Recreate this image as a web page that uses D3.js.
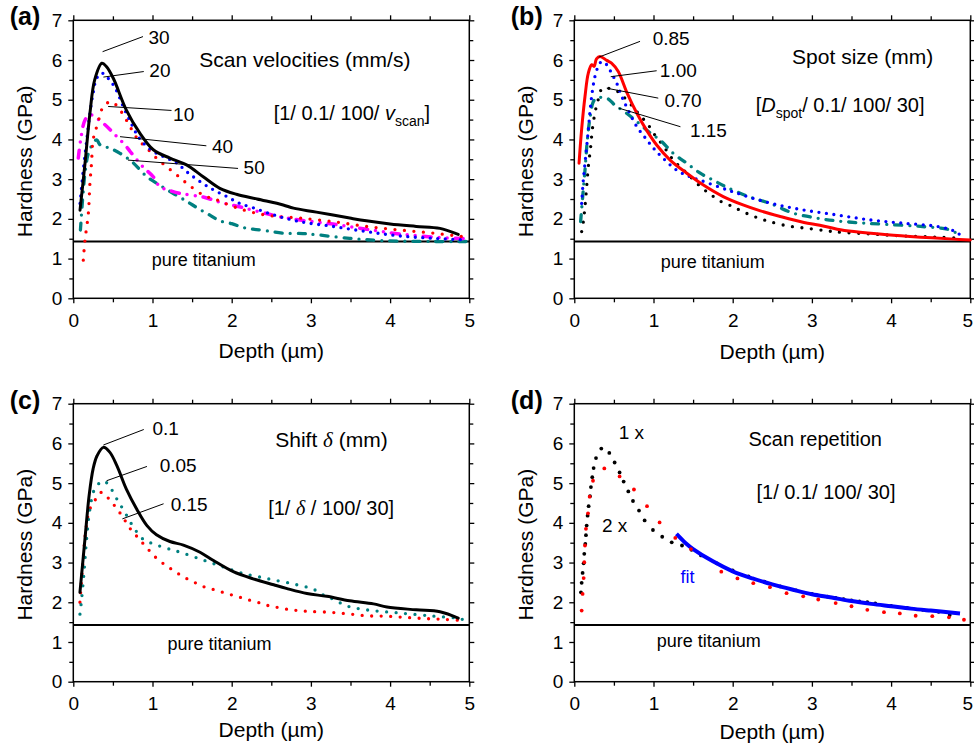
<!DOCTYPE html>
<html><head><meta charset="utf-8">
<script src="https://cdn.jsdelivr.net/npm/d3@7"></script>
<style>
body{margin:0;background:#fff}
svg{display:block}
</style>
</head><body>
<svg id="chart" width="974" height="745"></svg>
<script>
// ---------------- DATA ----------------
const xMajorTicks = [0, 1, 2, 3, 4, 5];
const xMinorTicks = [0.5, 1.5, 2.5, 3.5, 4.5];
const yMajorTicks = [0, 1, 2, 3, 4, 5, 6, 7];
const yMinorTicks = [0.5, 1.5, 2.5, 3.5, 4.5, 5.5, 6.5];
const pureTitaniumHardness = 1.43;

// (a) scan velocities, [depth (µm), hardness (GPa)]
const a_v30 = [[0.085,2.22],[0.148,3.4],[0.21,4.66],[0.27,5.5],[0.36,5.92],[0.42,5.83],[0.505,5.54],[0.67,4.74],[0.84,4.16],[1.01,3.74],[1.22,3.53],[1.43,3.36],[1.64,3.06],[1.85,2.77],[2.06,2.62],[2.32,2.5],[2.65,2.35],[2.78,2.27],[3.07,2.17],[3.49,2.02],[3.7,1.95],[4.0,1.87],[4.33,1.81],[4.63,1.76],[4.86,1.61]];
const a_v20 = [[0.085,2.39],[0.126,3.23],[0.17,3.99],[0.21,4.66],[0.25,5.16],[0.295,5.54],[0.36,5.67],[0.44,5.54],[0.53,5.29],[0.63,4.83],[0.72,4.45],[0.82,4.07],[0.93,3.82],[1.05,3.65],[1.18,3.53],[1.31,3.4],[1.43,3.19],[1.6,2.94],[1.77,2.73],[1.94,2.56],[2.1,2.39],[2.27,2.28],[2.53,2.1],[2.86,1.93],[3.28,1.81],[3.7,1.68],[4.12,1.57],[4.55,1.51],[4.97,1.47]];
const a_v10 = [[0.126,0.96],[0.148,1.47],[0.19,2.14],[0.21,2.9],[0.23,3.4],[0.25,3.99],[0.295,4.32],[0.34,4.62],[0.38,4.84],[0.485,4.95],[0.59,4.74],[0.67,4.49],[0.74,4.24],[0.82,3.99],[0.93,3.78],[1.05,3.53],[1.18,3.31],[1.31,3.1],[1.43,2.9],[1.64,2.6],[1.81,2.48],[2.02,2.31],[2.27,2.16],[2.53,2.07],[2.86,2.02],[3.28,1.93],[3.7,1.81],[4.12,1.72],[4.55,1.64],[4.97,1.54]];
const a_v40 = [[0.063,3.53],[0.093,3.99],[0.148,4.49],[0.21,4.62],[0.27,4.57],[0.4,4.37],[0.53,4.11],[0.67,3.82],[0.72,3.69],[0.88,3.31],[1.01,3.06],[1.09,2.81],[1.18,2.74],[1.35,2.64],[1.64,2.55],[1.85,2.42],[2.15,2.28],[2.57,2.07],[2.86,1.97],[3.28,1.87],[3.7,1.74],[4.12,1.62],[4.55,1.54],[4.97,1.5]];
const a_v50 = [[0.09,1.72],[0.12,2.56],[0.148,3.15],[0.19,3.65],[0.25,3.9],[0.295,3.99],[0.34,3.86],[0.46,3.78],[0.59,3.65],[0.74,3.44],[0.93,3.06],[1.09,2.85],[1.28,2.62],[1.45,2.42],[1.57,2.27],[1.72,2.1],[1.85,1.95],[2.0,1.88],[2.15,1.78],[2.27,1.74],[2.44,1.7],[2.65,1.64],[2.9,1.63],[3.07,1.6],[3.49,1.51],[3.91,1.45],[4.55,1.43],[4.97,1.43]];

// (b) spot sizes
const b_d085 = [[0.06,3.4],[0.092,4.24],[0.135,5.08],[0.177,5.67],[0.22,5.88],[0.25,5.84],[0.28,6.03],[0.325,6.09],[0.41,5.99],[0.47,5.92],[0.555,5.71],[0.66,5.2],[0.79,4.66],[0.91,4.24],[1.04,3.86],[1.21,3.48],[1.42,3.15],[1.63,2.85],[1.88,2.56],[2.13,2.35],[2.35,2.2],[2.6,2.06],[2.9,1.91],[3.1,1.84],[3.32,1.74],[3.53,1.68],[3.95,1.6],[4.37,1.54],[4.79,1.49],[5.0,1.47]];
const b_d100 = [[0.093,2.39],[0.114,2.98],[0.148,3.65],[0.177,4.24],[0.2,4.74],[0.227,5.2],[0.26,5.58],[0.3,5.83],[0.345,5.96],[0.41,5.88],[0.47,5.67],[0.535,5.42],[0.6,5.08],[0.68,4.74],[0.79,4.32],[0.9,4.03],[1.0,3.78],[1.12,3.53],[1.29,3.23],[1.46,3.06],[1.58,2.98],[1.99,2.69],[2.43,2.42],[2.85,2.24],[3.31,2.1],[3.75,1.97],[4.16,1.89],[4.58,1.81],[4.79,1.7],[4.87,1.6]];
const b_d070 = [[0.093,1.68],[0.114,1.93],[0.135,2.31],[0.156,2.81],[0.177,3.31],[0.207,3.82],[0.227,4.24],[0.26,4.66],[0.3,4.99],[0.355,5.29],[0.45,5.28],[0.555,5.2],[0.64,5.04],[0.75,4.8],[0.83,4.6],[0.92,4.41],[1.0,4.16],[1.13,3.82],[1.25,3.48],[1.42,3.15],[1.6,2.8],[1.73,2.6],[1.86,2.43],[1.99,2.32],[2.09,2.22],[2.22,2.1],[2.34,2.01],[2.47,1.93],[2.7,1.82],[2.95,1.76],[3.19,1.7],[3.31,1.67],[3.74,1.62],[4.16,1.57],[4.58,1.54],[4.87,1.51]];
const b_d115 = [[0.08,1.93],[0.106,2.56],[0.135,3.23],[0.165,3.99],[0.2,4.57],[0.24,4.95],[0.28,5.04],[0.41,5.04],[0.51,4.87],[0.66,4.66],[0.79,4.45],[0.96,4.16],[1.08,3.99],[1.25,3.65],[1.42,3.4],[1.59,3.15],[1.75,2.98],[1.91,2.81],[2.2,2.56],[2.47,2.39],[2.77,2.14],[3.06,2.02],[3.31,1.95],[3.61,1.9],[3.95,1.86],[4.37,1.81],[4.71,1.74],[4.83,1.64]];

// (c) shift
const c_s010 = [[0.084,2.25],[0.147,3.59],[0.2,4.69],[0.25,5.36],[0.3,5.69],[0.38,5.9],[0.46,5.78],[0.55,5.44],[0.67,4.85],[0.8,4.35],[0.93,3.93],[1.05,3.7],[1.22,3.53],[1.39,3.44],[1.6,3.26],[1.77,3.05],[2.02,2.77],[2.27,2.59],[2.53,2.44],[2.69,2.35],[2.95,2.22],[3.2,2.15],[3.49,2.04],[3.79,1.96],[3.96,1.88],[4.33,1.81],[4.63,1.76],[4.86,1.6]];
const c_s005 = [[0.084,1.7],[0.105,2.08],[0.135,2.75],[0.168,3.59],[0.21,4.35],[0.27,4.85],[0.38,5.06],[0.46,4.91],[0.55,4.6],[0.65,4.27],[0.76,3.89],[0.88,3.59],[1.01,3.47],[1.18,3.36],[1.35,3.26],[1.6,3.09],[1.85,2.92],[2.1,2.75],[2.44,2.6],[2.78,2.46],[3.03,2.33],[3.16,2.18],[3.28,2.08],[3.45,1.91],[3.7,1.81],[4.12,1.73],[4.55,1.65],[4.84,1.6],[4.97,1.54]];
const c_s015 = [[0.084,2.0],[0.118,2.92],[0.16,3.85],[0.21,4.35],[0.3,4.64],[0.36,4.77],[0.46,4.58],[0.56,4.33],[0.64,4.1],[0.72,3.85],[0.82,3.62],[0.93,3.37],[1.04,3.13],[1.16,2.94],[1.28,2.78],[1.4,2.63],[1.53,2.5],[1.65,2.39],[1.77,2.32],[1.89,2.25],[2.01,2.18],[2.13,2.11],[2.25,2.04],[2.38,1.97],[2.49,1.9],[2.61,1.86],[2.74,1.81],[2.85,1.79],[2.98,1.77],[3.22,1.75],[3.46,1.71],[3.7,1.66],[3.95,1.65],[4.19,1.62],[4.43,1.59],[4.67,1.57],[4.92,1.54]];

// (d) scan repetition (measured points) and fit
const d_rep1 = [[0.084,2.25],[0.093,2.49],[0.105,2.74],[0.118,2.98],[0.126,3.22],[0.139,3.47],[0.147,3.69],[0.156,3.93],[0.168,4.18],[0.181,4.42],[0.198,4.67],[0.21,4.9],[0.227,5.15],[0.244,5.38],[0.274,5.63],[0.341,5.87],[0.442,5.76],[0.509,5.52],[0.572,5.27],[0.623,5.04],[0.682,4.79],[0.741,4.55],[0.817,4.31],[0.888,4.06],[0.993,3.82],[1.11,3.65],[1.23,3.51],[1.36,3.43],[1.48,3.32],[1.6,3.18],[1.8,2.98],[2.0,2.8],[2.2,2.65],[2.4,2.52],[2.6,2.4],[2.8,2.3],[3.0,2.21],[3.2,2.14],[3.3,2.11],[3.4,2.08],[3.5,2.05],[3.6,2.02],[3.7,2.0],[3.8,1.97],[4.0,1.91],[4.2,1.86],[4.4,1.81],[4.6,1.76],[4.74,1.68]];
const d_rep2 = [[0.093,1.79],[0.105,2.21],[0.118,2.61],[0.126,3.01],[0.135,3.43],[0.147,3.85],[0.173,4.24],[0.194,4.66],[0.236,5.06],[0.379,5.37],[0.572,5.17],[0.753,4.84],[0.918,4.42],[1.077,4.01],[1.275,3.62],[1.473,3.34],[1.856,2.77],[2.06,2.6],[2.26,2.48],[2.47,2.38],[2.68,2.23],[2.89,2.15],[3.08,2.07],[3.3,1.98],[3.5,1.9],[3.7,1.81],[3.91,1.75],[4.11,1.72],[4.31,1.66],[4.52,1.65],[4.73,1.62],[4.92,1.56]];
const d_fit = [[1.29,3.72],[1.4,3.5],[1.5,3.34],[1.75,3.03],[2.0,2.78],[2.25,2.6],[2.5,2.45],[2.75,2.32],[3.0,2.2],[3.25,2.12],[3.5,2.03],[3.75,1.96],[4.0,1.9],[4.25,1.84],[4.5,1.79],[4.87,1.72]];

// ---------------- LAYOUT / STYLE ----------------
const svg = d3.select("#chart");
const FONT = '"Liberation Sans", Arial, Helvetica, sans-serif';
const PW = 396, PH = 278;
const colX = [73.3, 574.3], rowY = [20.3, 403.7];

const styles = {
  solid:      {w: 3,   dash: null},
  dotFine:    {w: 3.3, dash: "0 7.5"},
  dot:        {w: 3.3, dash: "0 9.5"},
  dashDot:    {w: 3.3, dash: "7 8 0 8"},
  dashDotDot: {w: 3.5, dash: "8 8 0 8 0 8"},
  fit:        {w: 4,   dash: null}
};

const panels = [
  { label: "(a)", col: 0, row: 0, xTitleOff: 60,
    series: [
      {data: a_v50, color: "#008080", style: "dashDot"},
      {data: a_v40, color: "#ff00ff", style: "dashDotDot"},
      {data: a_v10, color: "#ff0000", style: "dot"},
      {data: a_v20, color: "#0000ff", style: "dotFine"},
      {data: a_v30, color: "#000000", style: "solid"}
    ],
    notes: [
      {t: "30", from: [0.37, 6.21], to: [0.88, 6.59], at: [0.95, 6.57]},
      {t: "20", from: [0.38, 5.57], to: [0.89, 5.71], at: [0.96, 5.75]},
      {t: "10", from: [0.44, 4.83], to: [1.24, 4.73], at: [1.26, 4.64]},
      {t: "40", from: [0.59, 4.07], to: [1.68, 3.84], at: [1.75, 3.82]},
      {t: "50", from: [0.69, 3.48], to: [2.08, 3.27], at: [2.15, 3.29]}
    ],
    title: {parts: [{t: "Scan velocities (mm/s)"}], at: [1.59, 6.02], size: 21},
    param: {parts: [{t: "[1/ 0.1/ 100/ "}, {t: "v", it: true}, {t: "scan", sub: true}, {t: "]", unsub: true}], at: [2.53, 4.66], size: 20},
    pure: [0.99, 0.98]
  },
  { label: "(b)", col: 1, row: 0, xTitleOff: 61,
    series: [
      {data: b_d070, color: "#000000", style: "dot"},
      {data: b_d115, color: "#008080", style: "dashDot"},
      {data: b_d100, color: "#0000ff", style: "dotFine"},
      {data: b_d085, color: "#ff0000", style: "solid"}
    ],
    notes: [
      {t: "0.85", from: [0.307, 6.07], to: [0.83, 6.47], at: [0.99, 6.55]},
      {t: "1.00", from: [0.46, 5.58], to: [1.04, 5.73], at: [1.08, 5.75]},
      {t: "0.70", from: [0.41, 5.29], to: [1.06, 5.04], at: [1.14, 5.0]},
      {t: "1.15", from: [0.56, 4.79], to: [1.34, 4.32], at: [1.46, 4.24]}
    ],
    title: {parts: [{t: "Spot size (mm)"}], at: [2.75, 6.09], size: 21},
    param: {parts: [{t: "["}, {t: "D", it: true}, {t: "spot", sub: true}, {t: "/ 0.1/ 100/ 30]", unsub: true}], at: [2.29, 4.87], size: 20},
    pure: [1.09, 0.92]
  },
  { label: "(c)", col: 0, row: 1, xTitleOff: 55,
    series: [
      {data: c_s015, color: "#ff0000", style: "dot"},
      {data: c_s005, color: "#008080", style: "dot"},
      {data: c_s010, color: "#000000", style: "solid"}
    ],
    notes: [
      {t: "0.1",  from: [0.38, 5.96], to: [0.89, 6.35], at: [1.0, 6.38]},
      {t: "0.05", from: [0.42, 5.06], to: [0.93, 5.42], at: [1.09, 5.44]},
      {t: "0.15", from: [0.62, 4.1],  to: [1.14, 4.48], at: [1.23, 4.48]}
    ],
    title: {parts: [{t: "Shift "}, {t: "δ", greek: true}, {t: " (mm)"}], at: [2.55, 6.11], size: 21},
    param: {parts: [{t: "[1/ "}, {t: "δ", greek: true}, {t: " / 100/ 30]"}], at: [2.46, 4.39], size: 20},
    pure: [1.19, 0.97]
  },
  { label: "(d)", col: 1, row: 1, xTitleOff: 57,
    series: [],
    points: [
      {data: d_rep1, color: "#000000"}
    ],
    fit: {data: d_fit, color: "#0000ff"},
    pointsTop: [
      {data: d_rep2, color: "#ff0000"}
    ],
    notes: [
      {t: "1 x", at: [0.56, 6.28]},
      {t: "2 x", at: [0.35, 3.95]},
      {t: "fit", at: [1.34, 2.65], color: "#0000ff", size: 18}
    ],
    title: {parts: [{t: "Scan repetition"}], at: [2.2, 6.11], size: 20},
    param: {parts: [{t: "[1/ 0.1/ 100/ 30]"}], at: [2.3, 4.77], size: 20},
    pure: [1.04, 1.03]
  }
];

function addRichText(g, parts, x, y, size) {
  const t = g.append("text").attr("x", x).attr("y", y).attr("dy", "0.36em")
    .attr("font-family", FONT).attr("font-size", size).attr("fill", "#000");
  parts.forEach(p => {
    const ts = t.append("tspan").text(p.t);
    if (p.it) ts.attr("font-style", "italic");
    if (p.greek) ts.attr("font-style", "italic").attr("font-family", '"Liberation Serif", "DejaVu Serif", serif');
    if (p.sub) ts.attr("font-size", size * 0.7).attr("dy", 6);
    if (p.unsub) ts.attr("dy", -6);
  });
  return t;
}

panels.forEach(p => {
  const left = colX[p.col], top = rowY[p.row];
  const x = d3.scaleLinear().domain([0, 5]).range([left, left + PW]);
  const y = d3.scaleLinear().domain([0, 7]).range([top + PH, top]);
  const g = svg.append("g");

  // axes with outward ticks on all four sides
  const mk = (axisFn, scale, vals, size, labels) => axisFn(scale).tickValues(vals).tickSize(size)
    .tickPadding(labels ? (axisFn === d3.axisBottom ? 10 : 6) : 0)
    .tickFormat(labels ? d3.format("d") : "");
  const axes = [
    [d3.axisBottom, x, xMajorTicks, 5, true,  `translate(0,${top + PH})`],
    [d3.axisBottom, x, xMinorTicks, 4, false, `translate(0,${top + PH})`],
    [d3.axisTop,    x, xMajorTicks, 5, false, `translate(0,${top})`],
    [d3.axisTop,    x, xMinorTicks, 4, false, `translate(0,${top})`],
    [d3.axisLeft,   y, yMajorTicks, 5, true,  `translate(${left},0)`],
    [d3.axisLeft,   y, yMinorTicks, 4, false, `translate(${left},0)`],
    [d3.axisRight,  y, yMajorTicks, 5, false, `translate(${left + PW},0)`],
    [d3.axisRight,  y, yMinorTicks, 4, false, `translate(${left + PW},0)`]
  ];
  axes.forEach(([fn, sc, vals, sz, lab, tr]) => {
    const ag = g.append("g").attr("transform", tr).call(mk(fn, sc, vals, sz, lab));
    ag.select(".domain").remove();
    ag.selectAll(".tick line").attr("stroke", "#000").attr("stroke-width", 1.3);
    ag.selectAll(".tick text").attr("font-family", FONT).attr("font-size", 19).attr("fill", "#000");
    // keep the last x label of the right-hand panels inside the window
    if (fn === d3.axisBottom && lab && p.col === 1) {
      ag.selectAll(".tick text").filter(d => d === 5).attr("dx", -3);
    }
  });

  // frame
  g.append("rect").attr("x", x(0)).attr("y", y(7)).attr("width", x(5) - x(0)).attr("height", y(0) - y(7))
    .attr("fill", "none").attr("stroke", "#000").attr("stroke-width", 1.5);

  // pure titanium reference
  g.append("line").attr("x1", x(0)).attr("x2", x(5)).attr("y1", y(pureTitaniumHardness)).attr("y2", y(pureTitaniumHardness))
    .attr("stroke", "#000").attr("stroke-width", 2);
  g.append("text").attr("x", x(p.pure[0])).attr("y", y(p.pure[1])).attr("dy", "0.36em")
    .attr("font-family", FONT).attr("font-size", 18).text("pure titanium");

  // series lines
  const line = d3.line().x(d => x(d[0])).y(d => y(d[1])).curve(d3.curveCatmullRom.alpha(0.5));
  p.series.forEach(s => {
    const st = styles[s.style];
    g.append("path").attr("d", line(s.data)).attr("fill", "none").attr("stroke", s.color)
      .attr("stroke-width", st.w).attr("stroke-linecap", "round").attr("stroke-linejoin", "round")
      .attr("stroke-dasharray", st.dash);
  });
  (p.points || []).forEach(s => {
    g.selectAll(null).data(s.data).join("circle").attr("cx", d => x(d[0])).attr("cy", d => y(d[1]))
      .attr("r", 1.9).attr("fill", s.color);
  });
  if (p.fit) {
    g.append("path").attr("d", line(p.fit.data)).attr("fill", "none").attr("stroke", p.fit.color)
      .attr("stroke-width", styles.fit.w).attr("stroke-linecap", "butt");
  }
  (p.pointsTop || []).forEach(s => {
    g.selectAll(null).data(s.data).join("circle").attr("cx", d => x(d[0])).attr("cy", d => y(d[1]))
      .attr("r", 1.9).attr("fill", s.color);
  });

  // annotations
  p.notes.forEach(n => {
    if (n.from) g.append("line").attr("x1", x(n.from[0])).attr("y1", y(n.from[1]))
      .attr("x2", x(n.to[0])).attr("y2", y(n.to[1])).attr("stroke", "#000").attr("stroke-width", 1);
    g.append("text").attr("x", x(n.at[0])).attr("y", y(n.at[1])).attr("dy", "0.36em")
      .attr("font-family", FONT).attr("font-size", n.size || 19).attr("fill", n.color || "#000").text(n.t);
  });

  addRichText(g, p.title.parts, x(p.title.at[0]), y(p.title.at[1]), p.title.size);
  addRichText(g, p.param.parts, x(p.param.at[0]), y(p.param.at[1]), p.param.size);

  // axis titles
  g.append("text").attr("x", (x(0) + x(5)) / 2).attr("y", top + PH + p.xTitleOff)
    .attr("text-anchor", "middle").attr("font-family", FONT).attr("font-size", 21).text("Depth (µm)");
  g.append("text").attr("transform", `translate(${left - 41},${(y(0) + y(7)) / 2 + 2}) rotate(-90)`)
    .attr("text-anchor", "middle").attr("font-family", FONT).attr("font-size", 21).text("Hardness (GPa)");

  // panel label
  g.append("text").attr("x", left - 63.5).attr("y", top + 5).attr("font-family", FONT)
    .attr("font-weight", "bold").attr("font-size", 25).text(p.label);
});
</script>
</body></html>
